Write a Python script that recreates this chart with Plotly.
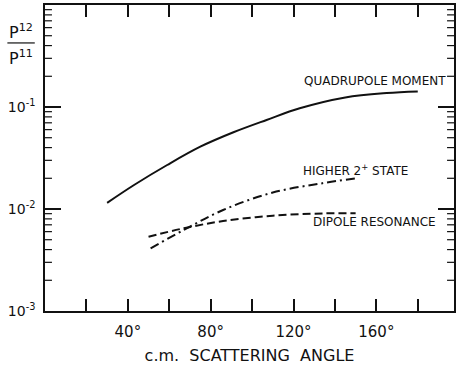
import math
import plotly.graph_objects as go

# Data
quad_angle = [30, 43, 59, 75, 91, 107, 123, 145, 165, 180]
quad_ratio = [0.0115, 0.0172, 0.0270, 0.0408, 0.0565, 0.0746, 0.0971, 0.124, 0.137, 0.142]

higher_angle = [51, 67, 86, 110, 134, 150]
higher_ratio = [0.00412, 0.00622, 0.00977, 0.0145, 0.0179, 0.0200]

dipole_angle = [50, 67, 86, 110, 134, 150]
dipole_ratio = [0.00535, 0.00647, 0.00762, 0.00859, 0.00905, 0.00908]

x_tickvals = [20, 40, 60, 80, 100, 120, 140, 160, 180]
x_ticktext = ["", "40°", "", "80°", "", "120°", "", "160°", ""]
y_decades = [0.001, 0.01, 0.1]
y_ticktext = ["10<sup>-3</sup>", "10<sup>-2</sup>", "10<sup>-1</sup>"]

labels = [
    ("QUADRUPOLE MOMENT", 124.0, 0.18),
    ("HIGHER 2<sup>+</sup> STATE", 123.5, 0.0243),
    ("DIPOLE RESONANCE", 128.5, 0.0074),
]

ink = "#111111"
font_family = "DejaVu Sans, Arial, sans-serif"

fig = go.Figure()
fig.add_trace(go.Scatter(x=quad_angle, y=quad_ratio, mode="lines",
                         line=dict(color=ink, width=2, shape="spline"), showlegend=False))
fig.add_trace(go.Scatter(x=higher_angle, y=higher_ratio, mode="lines",
                         line=dict(color=ink, width=2, shape="spline", dash="9px,4px,2px,4px"),
                         showlegend=False))
fig.add_trace(go.Scatter(x=dipole_angle, y=dipole_ratio, mode="lines",
                         line=dict(color=ink, width=2, shape="spline", dash="8px,4px"),
                         showlegend=False))

for text, xv, yv in labels:
    fig.add_annotation(x=xv, y=math.log10(yv), xref="x", yref="y", text=text, showarrow=False,
                       xanchor="left", yanchor="middle",
                       font=dict(family=font_family, size=12, color=ink))

# y-axis title as a fraction
fig.add_annotation(x=-0.059, y=0.912, xref="paper", yref="paper", text="P<sup>12</sup>",
                   showarrow=False, xanchor="center", yanchor="middle",
                   font=dict(family=font_family, size=16, color=ink))
fig.add_annotation(x=-0.059, y=0.828, xref="paper", yref="paper", text="P<sup>11</sup>",
                   showarrow=False, xanchor="center", yanchor="middle",
                   font=dict(family=font_family, size=16, color=ink))
fig.add_shape(type="line", xref="paper", yref="paper", x0=-0.092, x1=-0.025, y0=0.876, y1=0.876,
              line=dict(color=ink, width=1.2))

# minor log ticks (2..9 in each decade) on left and right frame edges
for d in y_decades:
    for m in range(2, 10):
        v = m * d
        fig.add_shape(type="line", xref="x domain", yref="y", x0=0, x1=0.017, y0=v, y1=v,
                      line=dict(color=ink, width=1.2))
        fig.add_shape(type="line", xref="x domain", yref="y", x0=0.983, x1=1, y0=v, y1=v,
                      line=dict(color=ink, width=1.2))

fig.update_layout(
    width=456, height=368,
    margin=dict(l=45, r=2, t=5, b=57, autoexpand=False),
    paper_bgcolor="white", plot_bgcolor="white",
    font=dict(family=font_family, color=ink),
    xaxis=dict(range=[0, 197.5], tickvals=x_tickvals, ticktext=x_ticktext,
               ticks="inside", ticklen=12, tickwidth=1.5, tickcolor=ink,
               showline=True, linecolor=ink, linewidth=1.5, mirror="ticks",
               showgrid=False, zeroline=False, ticklabelstandoff=6,
               tickfont=dict(size=15, color=ink), automargin=False,
               title=dict(text="c.m.  SCATTERING  ANGLE", standoff=10,
                          font=dict(size=16, color=ink))),
    yaxis=dict(type="log", range=[-3, 0], tickvals=y_decades, ticktext=y_ticktext,
               ticks="inside", ticklen=16, tickwidth=1.5, tickcolor=ink,
               showline=True, linecolor=ink, linewidth=1.5, mirror="ticks",
               showgrid=False, zeroline=False, ticklabelstandoff=5,
               tickfont=dict(size=14, color=ink), automargin=False),
)

fig.write_html("out.html")
